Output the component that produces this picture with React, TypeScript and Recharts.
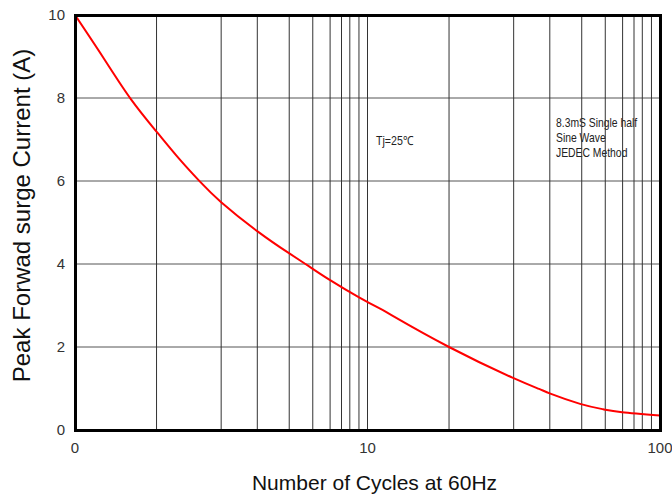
import React from 'react';
import {
  LineChart,
  Line,
  XAxis,
  YAxis,
  CartesianGrid,
  ReferenceLine,
  Customized,
} from 'recharts';

const cycles = [1, 1.25, 1.55, 1.91, 2.28, 2.67, 3.16, 4.22, 5.39, 6.26, 7.38, 9.39, 11, 12.2, 19, 31.3, 38.6, 42.4, 53.3, 63.9, 74.2, 100];
const current = [10, 8.97, 7.98, 7.17, 6.52, 5.99, 5.49, 4.78, 4.26, 3.96, 3.63, 3.19, 2.93, 2.75, 2.0, 1.26, 0.99, 0.87, 0.63, 0.5, 0.43, 0.35];

const xTicks = [1, 10, 100];
const xTickLabels = ['0', '10', '100'];
const yTicks = [0, 2, 4, 6, 8, 10];
const xGrid = [1.9, 3.16, 4.2, 5.4, 6.5, 7.45, 8.15, 8.7, 9.35, 10, 19, 31.6, 42, 54, 65, 74.5, 81.5, 87, 93.5];

const xTitle = 'Number of Cycles at 60Hz';
const yTitle = 'Peak Forwad surge Current (A)';
const noteTj = 'Tj=25℃';
const noteMethod = ['8.3mS Single half', 'Sine Wave', 'JEDEC Method'];

const data = cycles.map((n, i) => ({ n, i: current[i] }));

const FONT = "'Liberation Sans', Arial, sans-serif";

const W = 672;
const H = 501;
const MARGIN = { top: 15, right: 12, left: 0, bottom: 41 };
const Y_AXIS_W = 75;
const X_AXIS_H = 30;
const PLOT = {
  x: MARGIN.left + Y_AXIS_W,
  y: MARGIN.top,
  w: W - MARGIN.left - Y_AXIS_W - MARGIN.right,
  h: H - MARGIN.top - MARGIN.bottom - X_AXIS_H,
};
const FRAME_W = 3;

const Notes = () => (
  <g fontFamily={FONT} fontSize={12.5} fill="#222">
    <g transform="translate(376,145) scale(0.85,1)">
      <text x={0} y={0}>{noteTj}</text>
    </g>
    {noteMethod.map((t, k) => (
      <g key={k} transform={`translate(556,${127 + k * 15}) scale(0.83,1)`}>
        <text x={0} y={0}>{t}</text>
      </g>
    ))}
  </g>
);

export default function App() {
  return (
    <div style={{ position: 'absolute', left: 0, top: 0, width: W, height: H, background: '#fff' }}>
      <LineChart width={W} height={H} data={data} margin={MARGIN}>
        <CartesianGrid vertical={false} stroke="#555" strokeWidth={1} />
        <XAxis
          dataKey="n"
          type="number"
          scale="log"
          domain={[1, 100]}
          ticks={xTicks}
          tickFormatter={(v: number) => xTickLabels[xTicks.indexOf(v)] ?? String(v)}
          axisLine={false}
          tickLine={false}
          tickMargin={6}
          height={X_AXIS_H}
          interval={0}
          allowDataOverflow
          tick={{ fill: '#333', fontSize: 15, fontFamily: FONT }}
          label={{
            value: xTitle,
            position: 'bottom',
            offset: 15,
            dx: 7,
            style: { fill: '#111', fontSize: 21, fontFamily: FONT },
          }}
        />
        <YAxis
          type="number"
          domain={[0, 10]}
          ticks={yTicks}
          interval={0}
          width={Y_AXIS_W}
          axisLine={false}
          tickLine={false}
          tickMargin={4}
          tick={{ fill: '#333', fontSize: 15, fontFamily: FONT }}
          label={{
            value: yTitle,
            angle: -90,
            position: 'insideLeft',
            offset: 21,
            dy: -7,
            style: { textAnchor: 'middle', fill: '#111', fontSize: 24, fontFamily: FONT },
          }}
        />
        {xGrid.map((v) => (
          <ReferenceLine key={`g${v}`} x={v} stroke="#333" strokeWidth={1} ifOverflow="visible" />
        ))}
        <Line
          type="natural"
          dataKey="i"
          stroke="#ff0000"
          strokeWidth={2}
          dot={false}
          isAnimationActive={false}
        />
        <Customized component={<Notes />} />
      </LineChart>
      <div
        style={{
          position: 'absolute',
          left: PLOT.x - FRAME_W / 2,
          top: PLOT.y - FRAME_W / 2,
          width: PLOT.w + FRAME_W,
          height: PLOT.h + FRAME_W,
          border: `${FRAME_W}px solid #000`,
          boxSizing: 'border-box',
          pointerEvents: 'none',
        }}
      />
    </div>
  );
}
